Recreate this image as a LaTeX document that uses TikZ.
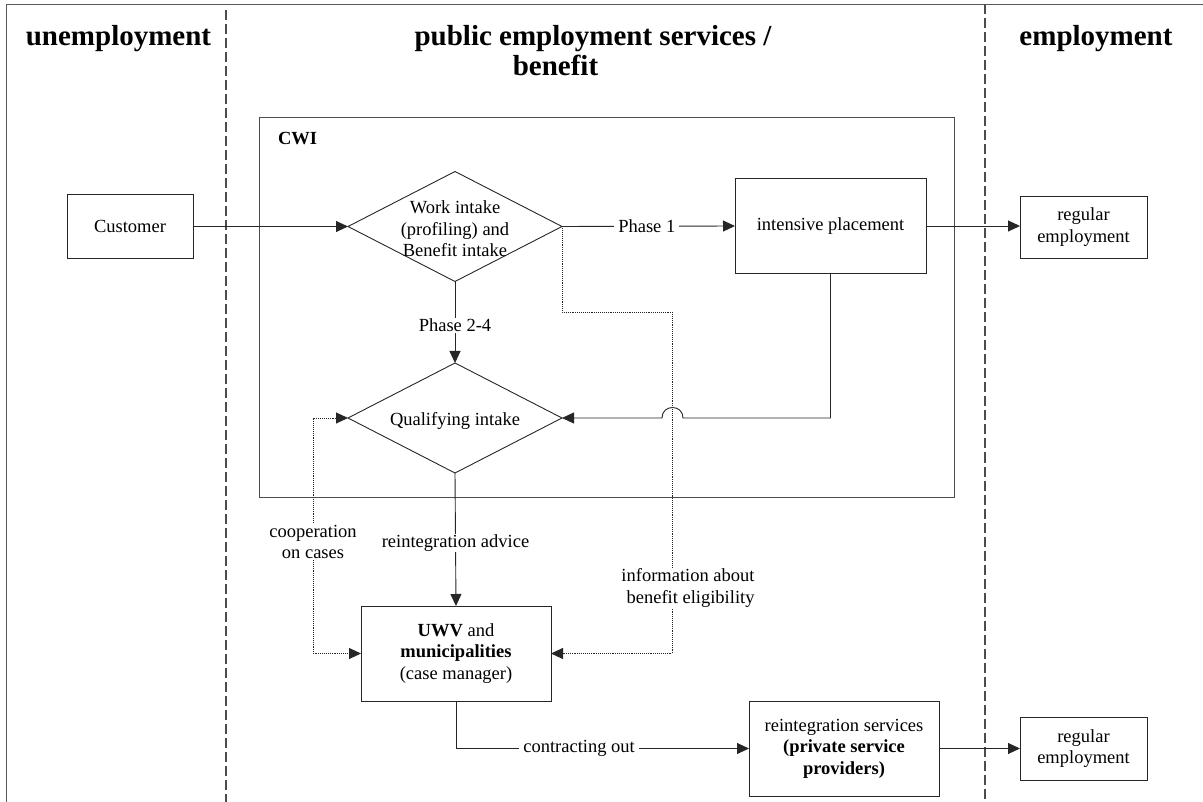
\documentclass[tikz,border=0pt]{standalone}
\usepackage{fontspec}
\setmainfont{Liberation Serif}
\usetikzlibrary{arrows.meta,shapes.geometric}
\begin{document}
\begin{tikzpicture}[x=1pt,y=-1pt,
  every node/.style={outer sep=0pt},
  body/.style={font=\fontsize{18.5}{21.5}\selectfont},
  hdr/.style={font=\fontsize{29}{29}\selectfont\bfseries, anchor=base, inner sep=0pt},
  box/.style={draw=black!85, line width=0.9pt, body, align=center, inner sep=0pt},
  dia/.style={diamond, draw=black!85, line width=0.9pt, inner sep=0pt, minimum width=214pt, minimum height=110pt},
  conn/.style={draw=black!85, line width=0.9pt},
  dotconn/.style={conn, densely dotted},
  lbl/.style={body, fill=white, align=center, inner xsep=4pt, inner ysep=1pt},
  sep/.style={draw=black!70, line width=1.1pt, dash pattern=on 10pt off 4pt},
  >={Triangle[length=12pt,width=11pt]}
]
\useasboundingbox (0,0) rectangle (1203,802);
% frame and separators
\draw[draw=black!65, line width=1pt] (6.5,802) -- (6.5,4.5) -- (1203,4.5);
\draw[sep] (226,10) -- (226,802);
\draw[sep] (985,4.5) -- (985,802);
% headers
\node[hdr] (h1) at (118.5,45.5) {unemployment};
\node[hdr] (h2) at (593,46) {public employment services /};
\node[hdr] (h3) at (555.5,75.5) {benefit};
\node[hdr] (h4) at (1096,46) {employment};
% CWI container
\node[draw=black!70, line width=0.9pt, minimum width=695pt, minimum height=380pt, inner sep=0pt] (cwi) at (606.5,307) {};
\node[body, font=\fontsize{18.5}{21.5}\selectfont\bfseries, anchor=base west, inner sep=0pt] (cwil) at (278,145) {CWI};
% nodes
\node[box, minimum width=126pt, minimum height=64pt] (cust) at (130,226.5) {\raisebox{-1.5pt}{Customer}};
\node[dia] (d1) at (455,226.5) {};
\node[body, align=center, inner sep=0pt] (d1t) at (455,229) {Work intake\\(profiling) and\\Benefit intake};
\node[dia] (d2) at (455,418) {};
\node[body, inner sep=0pt] (d2t) at (455,421) {Qualifying intake};
\node[box, minimum width=191pt, minimum height=95pt] (ip) at (830.5,226) {\raisebox{-1.5pt}{intensive placement}};
\node[box, minimum width=127pt, minimum height=62pt] (reg1) at (1083.5,227) {regular\\employment};
\node[box, minimum width=190pt, minimum height=95pt] (uwv) at (456,653.5) {\textbf{UWV} and\\\textbf{municipalities}\\(case manager)};
\node[box, minimum width=190pt, minimum height=95pt] (rs) at (844,748.5) {reintegration services\\\textbf{(private service}\\\textbf{providers)}};
\node[box, minimum width=127pt, minimum height=63pt] (reg2) at (1083.5,748.5) {regular\\employment};
% helper coordinates
\coordinate (i1) at (672,312);
\coordinate (c1) at (313,540);
\coordinate (j1) at (683,418);
\coordinate (j2) at (662,418);
\coordinate (ipc) at (ip.south |- d2.east);
% connectors
\draw[conn,->] (cust.east) -- (d1.west);
\draw[conn,->] (d1.east) -- node[lbl,pos=0.49] (lp1) {Phase 1} (ip.west);
\draw[conn,->] (ip.east) -- (reg1.west |- ip.east);
\draw[conn,->] (d1.south) -- node[lbl,pos=0.54] (lp2) {Phase 2-4} (d2.north);
\draw[conn,->] (ip.south) -- (ipc) -- (j1) .. controls (683,404) and (662,404) .. (j2) -- (d2.east);
\draw[dotconn,->] (d1.east) |- (i1) |- (uwv.east);
\draw[dotconn,<->] (d2.west) -| (c1) |- (uwv.west);
\draw[conn,->] (d2.south) -- node[lbl,pos=0.526] (lra) {reintegration advice} (uwv.north);
\draw[conn,->] (uwv.south) |- node[lbl,pos=0.71] (lco) {contracting out} (rs.west);
\draw[conn,->] (rs.east) -- (reg2.west);
% dotted-line labels
\node[lbl, align=right] (linf) at (688,588) {information about\\benefit eligibility};
\node[lbl] (lcoop) at (313,542) {cooperation\\on cases};
\end{tikzpicture}
\end{document}
